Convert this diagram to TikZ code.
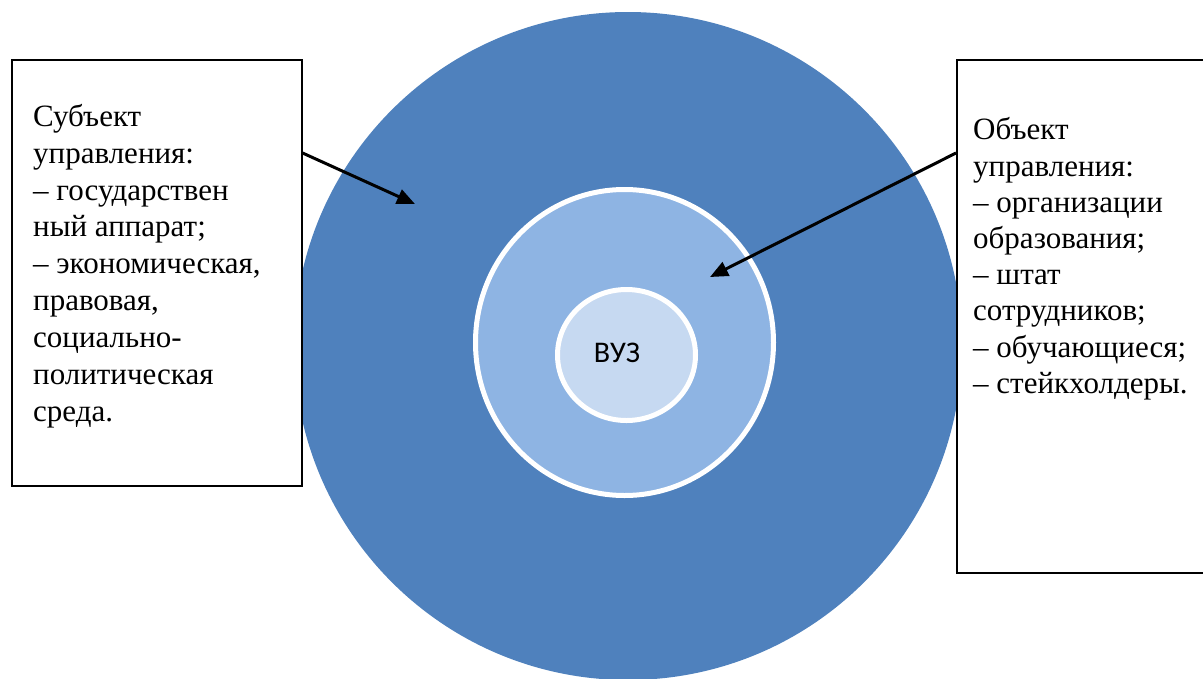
\documentclass[tikz,border=0pt]{standalone}
\usepackage{fontspec}
\setmainfont{Liberation Serif}
\newfontfamily\boxfont{Liberation Serif}
\newfontfamily\labelfont{Carlito}
\usetikzlibrary{arrows.meta,shapes.geometric,calc}
\definecolor{ringdark}{HTML}{4F81BD}
\definecolor{ringmid}{HTML}{8EB4E3}
\definecolor{ringlight}{HTML}{C6D9F1}

\begin{document}
\begin{tikzpicture}[x=1pt,y=-1pt,
  ring/.style={ellipse, draw=white, line width=5pt, inner sep=0pt},
  infobox/.style={draw=black, fill=white, line width=1.6pt, inner sep=0pt, anchor=north west},
  infotext/.style={anchor=north west, inner sep=0pt, align=left},
  pointer/.style={line width=3pt, -{Triangle[length=18pt,width=15pt]}}]
\useasboundingbox (0,0) rectangle (1203,678);

% nested rings
\node[ellipse, fill=ringdark, inner sep=0pt, minimum width=668, minimum height=668] (outer) at (628,346) {};
\node[ring, fill=ringmid, minimum width=298, minimum height=306] (middle) at (624.5,342.5) {};
\node[ring, fill=ringlight, minimum width=138, minimum height=131] (inner) at (626.5,355) {};
\node[font=\labelfont\fontsize{30}{36}\selectfont, inner sep=0pt] (vuz) at (617,353) {ВУЗ};

% side boxes
\node[infobox, minimum width=290, minimum height=426] (lbox) at (11,59) {};
\node[infobox, minimum width=262, minimum height=513] (rbox) at (956,59) {};

\node[infotext, font=\boxfont\fontsize{31}{36.9}\selectfont] (ltext) at (33,100.2) {\strut Субъект\\
управления:\\
– государствен\\
ный аппарат;\\
– экономическая,\\
правовая,\\
социально-\\
политическая\\
среда.};

\node[infotext, font=\boxfont\fontsize{31}{36.2}\selectfont] (rtext) at (973,114.3) {\strut Объект\\
управления:\\
– организации\\
образования;\\
– штат\\
сотрудников;\\
– обучающиеся;\\
– стейкхолдеры.};

% pointers into the rings
\coordinate (ltip) at (415,204);
\coordinate (rtip) at (710,277);
\draw[pointer] ($(lbox.north east)+(0,94)$) -- (ltip);
\draw[pointer] ($(rbox.north west)+(0,94)$) -- (rtip);
\end{tikzpicture}
\end{document}
